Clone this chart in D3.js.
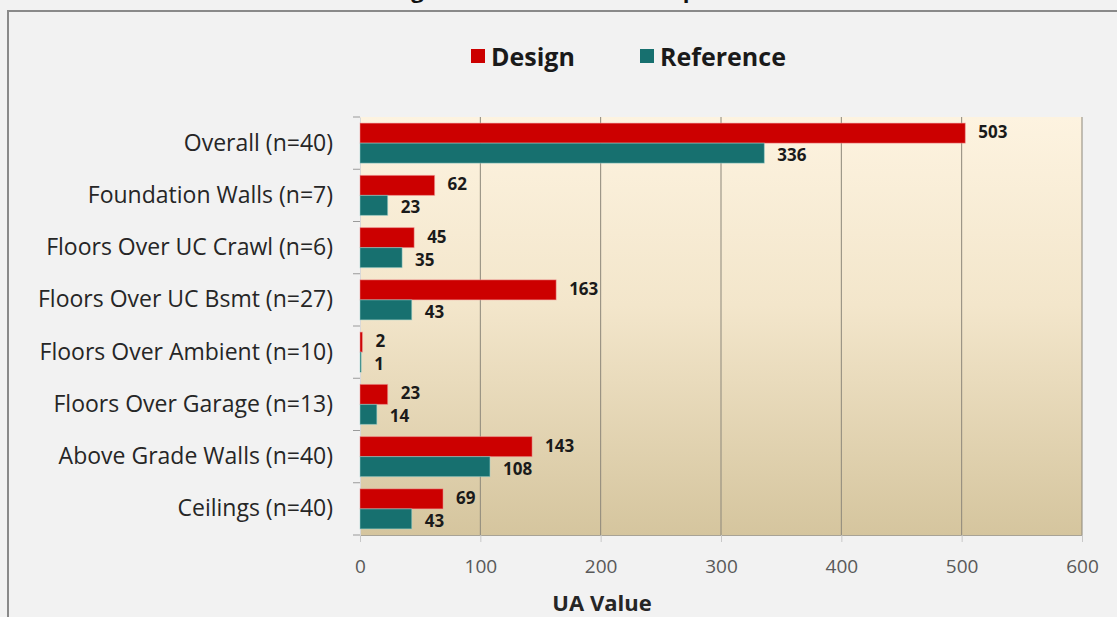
<!DOCTYPE html>
<html>
<head>
<meta charset="utf-8">
<script src="https://cdn.jsdelivr.net/npm/d3@7"></script>
<style>
  html, body { margin: 0; padding: 0; background: #f2f2f2; }
  svg { display: block; font-family: "Open Sans", "Noto Sans", sans-serif; }
</style>
</head>
<body>
<svg id="chart" width="1117" height="617"></svg>
<script>
// ── Data ────────────────────────────────────────────────────────────────
const categories = [
  'Overall (n=40)',
  'Foundation Walls (n=7)',
  'Floors Over UC Crawl (n=6)',
  'Floors Over UC Bsmt (n=27)',
  'Floors Over Ambient (n=10)',
  'Floors Over Garage (n=13)',
  'Above Grade Walls (n=40)',
  'Ceilings (n=40)'
];
const seriesNames = ['Design', 'Reference'];
const designValues    = [503, 62, 45, 163, 2, 23, 143, 69];
const referenceValues = [336, 23, 35, 43, 1, 14, 108, 43];
const xTicks = [0, 100, 200, 300, 400, 500, 600];
const titleText = 'Design vs. Reference UA Comparison';
const xTitle = 'UA Value';

// ── Layout / style ───────────────────────────────────────────────────────
const W = 1117, H = 617;
const plot = { left: 360, right: 1082, top: 117, bottom: 535 };
const COLORS = { Design: '#cc0000', Reference: '#17706f' };
const STROKES = { Design: '#f19a9a', Reference: '#9fd3d0' };
const LABEL_NUDGE = { Design: -1.5, Reference: 1.5 };  // labels spread a touch apart

const svg = d3.select('#chart');
const defs = svg.append('defs');

const grad = defs.append('linearGradient').attr('id', 'plot-bg')
  .attr('x1', 0).attr('y1', 0).attr('x2', 0).attr('y2', 1);
grad.append('stop').attr('offset', '0%').attr('stop-color', '#fdf3e0');
grad.append('stop').attr('offset', '45%').attr('stop-color', '#f3e6cb');
grad.append('stop').attr('offset', '100%').attr('stop-color', '#d5c59e');

// outer background + frame
svg.append('rect').attr('x', 0).attr('y', 0).attr('width', W).attr('height', H).attr('fill', '#f2f2f2');
svg.append('rect')
  .attr('x', 8).attr('y', 11).attr('width', W + 20).attr('height', H + 20)
  .attr('fill', 'none').attr('stroke', '#8a8a8a').attr('stroke-width', 2);

// title (mostly above the visible area, as in the source image)
svg.append('text')
  .attr('x', 565).attr('y', -2)
  .attr('text-anchor', 'middle')
  .attr('font-size', 22).attr('font-weight', 'bold').attr('fill', '#111')
  .text(titleText);

// ── Scales ───────────────────────────────────────────────────────────────
const x = d3.scaleLinear().domain([0, 600]).range([plot.left, plot.right]);
const y = d3.scaleBand().domain(categories)
  .range([plot.top, plot.bottom])
  .paddingInner(0.234).paddingOuter(0.117);
const ySub = d3.scaleBand().domain(seriesNames).range([0, y.bandwidth()]);

// plot background
svg.append('rect')
  .attr('x', plot.left).attr('y', plot.top)
  .attr('width', plot.right - plot.left).attr('height', plot.bottom - plot.top)
  .attr('fill', 'url(#plot-bg)');

// gridlines
svg.append('g').selectAll('line')
  .data(xTicks.filter(t => t > 0))
  .join('line')
  .attr('x1', d => x(d)).attr('x2', d => x(d))
  .attr('y1', plot.top).attr('y2', plot.bottom)
  .attr('stroke', '#8c877a').attr('stroke-width', 1);

// x axis
const xAxis = svg.append('g')
  .attr('transform', `translate(0,${plot.bottom})`)
  .call(d3.axisBottom(x).tickValues(xTicks).tickSize(7).tickPadding(18).tickSizeOuter(0));
xAxis.select('.domain').attr('stroke', '#a8a396');
xAxis.selectAll('.tick line').attr('stroke', '#c8c8c8');
xAxis.selectAll('.tick text')
  .attr('font-size', 19).attr('fill', '#595959')
  .attr('font-family', '"Open Sans", sans-serif');

// y axis
const yAxis = svg.append('g')
  .attr('transform', `translate(${plot.left},0)`)
  .call(d3.axisLeft(y).tickSize(0).tickPadding(27));
yAxis.select('.domain').attr('stroke', '#d8d8d8');
yAxis.selectAll('.tick text')
  .attr('font-size', 23).attr('fill', '#262626')
  .attr('font-family', '"Open Sans", sans-serif');

// category boundary ticks on y axis
const bounds = categories.map(c => y(c) - y.step() * y.paddingInner() / 2);
bounds.push(plot.bottom);
svg.append('g').selectAll('line')
  .data(bounds)
  .join('line')
  .attr('x1', plot.left - 7).attr('x2', plot.left)
  .attr('y1', d => d).attr('y2', d => d)
  .attr('stroke', '#9a9a9a').attr('stroke-width', 1);

// ── Bars ─────────────────────────────────────────────────────────────────
const rows = categories.map((c, i) => ({
  cat: c,
  values: [
    { series: 'Design', value: designValues[i] },
    { series: 'Reference', value: referenceValues[i] }
  ]
}));

const groups = svg.append('g').selectAll('g')
  .data(rows)
  .join('g')
  .attr('transform', d => `translate(0,${y(d.cat)})`);

groups.selectAll('rect')
  .data(d => d.values)
  .join('rect')
  .attr('x', x(0))
  .attr('y', d => ySub(d.series))
  .attr('width', d => x(d.value) - x(0))
  .attr('height', ySub.bandwidth())
  .attr('fill', d => COLORS[d.series])
  .attr('stroke', d => STROKES[d.series])
  .attr('stroke-opacity', 0.5)
  .attr('stroke-width', 1);

groups.selectAll('text')
  .data(d => d.values)
  .join('text')
  .attr('x', d => x(d.value) + 13)
  .attr('y', d => ySub(d.series) + ySub.bandwidth() / 2 + LABEL_NUDGE[d.series])
  .attr('dominant-baseline', 'central')
  .attr('font-size', 17).attr('font-weight', 'bold').attr('fill', '#1a1a1a')
  .text(d => d.value);

// x axis title
svg.append('text')
  .attr('x', 602).attr('y', 602)
  .attr('text-anchor', 'middle')
  .attr('dominant-baseline', 'central')
  .attr('font-size', 22).attr('font-weight', 'bold').attr('fill', '#262626')
  .text(xTitle);

// ── Legend ───────────────────────────────────────────────────────────────
const legendPos = { Design: 471, Reference: 640 };
const legend = svg.append('g').selectAll('g')
  .data(seriesNames)
  .join('g')
  .attr('transform', d => `translate(${legendPos[d]},49)`);
legend.append('rect')
  .attr('width', 14).attr('height', 14)
  .attr('fill', d => COLORS[d]);
legend.append('text')
  .attr('x', 20).attr('y', 7)
  .attr('dominant-baseline', 'central')
  .attr('font-size', 25).attr('font-weight', 'bold').attr('fill', '#1a1a1a')
  .text(d => d);
</script>
</body>
</html>
